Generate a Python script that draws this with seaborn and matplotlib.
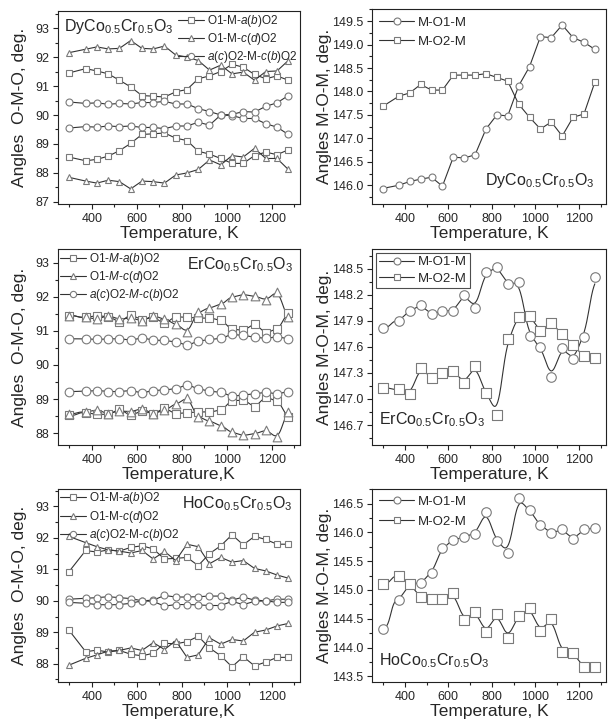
import numpy as np
import matplotlib
matplotlib.use("Agg")
import matplotlib.pyplot as plt
import seaborn as sns
from matplotlib.lines import Line2D
from matplotlib.ticker import MultipleLocator, FormatStrFormatter

# ===============================
# DATA
# ===============================
temperature = [298, 373, 423, 473, 523, 573, 623, 673, 723, 773,
               823, 873, 923, 973, 1023, 1073, 1123, 1173, 1223, 1273]

# DyCo0.5Cr0.5O3, O-M-O angles (two branches per bond type)
dy_ab_hi = [91.45, 91.60, 91.52, 91.42, 91.20, 90.97, 90.67, 90.65, 90.62, 90.80,
            90.88, 91.25, 91.35, 91.50, 91.75, 91.65, 91.40, 91.25, 91.35, 91.20]
dy_ab_lo = [88.55, 88.42, 88.47, 88.58, 88.77, 89.02, 89.33, 89.35, 89.38, 89.20,
            89.12, 88.75, 88.65, 88.50, 88.33, 88.33, 88.60, 88.72, 88.63, 88.80]
dy_cd_hi = [92.15, 92.27, 92.35, 92.28, 92.30, 92.57, 92.30, 92.28, 92.38, 92.07,
            92.00, 91.88, 91.55, 91.72, 91.42, 91.48, 91.20, 91.50, 91.52, 91.88]
dy_cd_lo = [87.85, 87.72, 87.65, 87.75, 87.70, 87.45, 87.72, 87.70, 87.65, 87.93,
            88.00, 88.12, 88.45, 88.28, 88.60, 88.55, 88.85, 88.50, 88.50, 88.12]
dy_ac_hi = [90.45, 90.40, 90.42, 90.37, 90.40, 90.38, 90.43, 90.43, 90.47, 90.38,
            90.38, 90.22, 90.12, 90.00, 89.98, 89.88, 89.88, 89.70, 89.58, 89.33]
dy_ac_lo = [89.55, 89.60, 89.58, 89.62, 89.60, 89.62, 89.57, 89.57, 89.53, 89.62,
            89.62, 89.75, 89.65, 90.00, 90.02, 90.12, 90.10, 90.30, 90.42, 90.67]
# DyCo0.5Cr0.5O3, M-O-M angles
dy_mo1m = [145.93, 146.00, 146.08, 146.13, 146.17, 145.98, 146.60, 146.58, 146.65, 147.20,
           147.50, 147.48, 148.12, 148.53, 149.17, 149.15, 149.42, 149.15, 149.05, 148.90]
dy_mo2m = [147.68, 147.90, 147.97, 148.15, 148.03, 148.03, 148.35, 148.35, 148.35, 148.38,
           148.30, 148.22, 147.73, 147.45, 147.20, 147.35, 147.05, 147.45, 147.52, 148.20]

# ErCo0.5Cr0.5O3
er_ab_hi = [91.45, 91.40, 91.45, 91.42, 91.27, 91.47, 91.33, 91.40, 91.22, 91.42,
            91.40, 91.38, 91.38, 91.32, 91.05, 91.02, 91.20, 90.95, 91.05, 91.52]
er_ab_lo = [88.52, 88.60, 88.55, 88.55, 88.70, 88.52, 88.65, 88.57, 88.73, 88.57,
            88.60, 88.62, 88.62, 88.67, 88.95, 88.97, 88.78, 89.05, 88.95, 88.48]
er_cd_hi = [91.45, 91.40, 91.35, 91.45, 91.35, 91.38, 91.30, 91.45, 91.35, 91.20,
            90.98, 91.55, 91.68, 91.78, 92.00, 92.07, 92.02, 91.92, 92.15, 91.40]
er_cd_lo = [88.57, 88.62, 88.68, 88.57, 88.65, 88.63, 88.72, 88.57, 88.67, 88.85,
            89.03, 88.47, 88.35, 88.22, 88.02, 87.93, 87.98, 88.08, 87.87, 88.62]
er_ac_hi = [90.77, 90.77, 90.75, 90.77, 90.77, 90.73, 90.80, 90.73, 90.72, 90.68,
            90.58, 90.70, 90.75, 90.78, 90.90, 90.87, 90.82, 90.78, 90.83, 90.77]
er_ac_lo = [89.22, 89.23, 89.25, 89.22, 89.22, 89.25, 89.18, 89.25, 89.27, 89.30,
            89.42, 89.30, 89.23, 89.20, 89.08, 89.12, 89.15, 89.20, 89.15, 89.22]
er_mo1m = [147.82, 147.90, 148.02, 148.08, 147.98, 148.01, 148.02, 148.20, 148.05, 148.46,
           148.52, 148.33, 148.35, 147.73, 147.60, 147.25, 147.59, 147.46, 147.72, 148.41]
er_mo2m = [147.13, 147.11, 147.06, 147.36, 147.24, 147.30, 147.32, 147.19, 147.38, 147.07,
           146.82, 147.69, 147.95, 147.96, 147.78, 147.88, 147.75, 147.62, 147.49, 147.47]

# HoCo0.5Cr0.5O3
ho_ab_hi = [90.92, 91.60, 91.55, 91.62, 91.58, 91.70, 91.75, 91.65, 91.33, 91.35,
            91.38, 91.12, 91.50, 91.75, 92.10, 91.78, 92.05, 91.95, 91.80, 91.80]
ho_ab_lo = [89.07, 88.38, 88.43, 88.37, 88.42, 88.30, 88.25, 88.33, 88.65, 88.63,
            88.70, 88.87, 88.50, 88.25, 87.90, 88.22, 87.93, 88.05, 88.20, 88.20]
ho_cd_hi = [92.05, 91.85, 91.72, 91.62, 91.58, 91.52, 91.60, 91.33, 91.57, 91.28,
            91.80, 91.72, 91.18, 91.38, 91.23, 91.28, 91.03, 90.95, 90.82, 90.72]
ho_cd_lo = [87.95, 88.17, 88.28, 88.40, 88.42, 88.50, 88.42, 88.67, 88.45, 88.73,
            88.20, 88.28, 88.82, 88.62, 88.77, 88.72, 89.00, 89.07, 89.20, 89.28]
ho_ac_hi = [90.05, 90.08, 90.10, 90.13, 90.10, 90.07, 90.00, 90.02, 90.17, 90.12,
            90.12, 90.13, 90.15, 90.15, 90.02, 90.12, 90.02, 90.00, 90.05, 90.05]
ho_ac_lo = [89.95, 89.92, 89.88, 89.87, 89.88, 89.92, 90.00, 89.98, 89.83, 89.88,
            89.88, 89.87, 89.85, 89.85, 89.98, 89.88, 89.98, 90.00, 89.95, 89.95]
ho_mo1m = [144.33, 144.83, 145.10, 145.12, 145.30, 145.73, 145.87, 145.92, 145.98, 146.36,
           145.85, 145.64, 146.60, 146.38, 146.12, 145.99, 146.05, 145.88, 146.05, 146.08]
ho_mo2m = [145.10, 145.25, 145.10, 144.87, 144.84, 144.84, 144.94, 144.48, 144.62, 144.27,
           144.58, 144.17, 144.55, 144.68, 144.29, 144.50, 143.93, 143.90, 143.66, 143.66]

lbl_ab = r"O1-M-$\mathit{a}$($\mathit{b}$)O2"
lbl_cd = r"O1-M-$\mathit{c}$($\mathit{d}$)O2"
lbl_ac = r"$\mathit{a}$($\mathit{c}$)O2-M-$\mathit{c}$($\mathit{b}$)O2"
lbl_ab_er = r"O1-$\mathit{M}$-$\mathit{a}$($\mathit{b}$)O2"
lbl_cd_er = r"O1-$\mathit{M}$-$\mathit{c}$($\mathit{d}$)O2"
lbl_ac_er = r"$\mathit{a}$($\mathit{c}$)O2-$\mathit{M}$-$\mathit{c}$($\mathit{b}$)O2"

# ===============================
# STYLE
# ===============================
sns.set_style("ticks")
plt.rcParams["font.family"] = ["Liberation Sans", "DejaVu Sans"]
plt.rcParams["mathtext.fontset"] = "custom"
plt.rcParams["mathtext.rm"] = "Liberation Sans"
plt.rcParams["mathtext.it"] = "Liberation Sans:italic"

LINE = "#333333"
MARK = "#7a7a7a"
MS = 5


def smooth(x, y, h):
    # gaussian kernel smoother for the drawn curve (points stay as read)
    x = np.asarray(x, float)
    y = np.asarray(y, float)
    xs = np.linspace(x.min(), x.max(), 500)
    w = np.exp(-0.5 * ((xs[:, None] - x[None, :]) / h) ** 2)
    return xs, (w * y).sum(1) / w.sum(1)


def draw(ax, y, marker, h=None, ms=MS):
    if h:
        xs, ys = smooth(temperature, y, h)
        sns.lineplot(x=xs, y=ys, ax=ax, color=LINE, lw=0.8, zorder=2)
        sns.scatterplot(x=temperature, y=y, ax=ax, marker=marker, s=(ms * 1.25) ** 2,
                        color="white", edgecolor=MARK, linewidth=0.8, zorder=3)
    else:
        sns.lineplot(x=temperature, y=y, ax=ax, color=LINE, lw=0.8, marker=marker,
                     ms=ms, mfc="white", mec=MARK, mew=0.8, zorder=2)


def handle(marker, label, ms=4.5):
    return Line2D([], [], color=LINE, lw=0.8, marker=marker, ms=ms,
                  mfc="white", mec=MARK, mew=0.8, label=label)


def style(ax, ylim, ymaj, fmt, xlabel, ylabel, ylab_x):
    ax.set_xlim(250, 1325)
    ax.set_ylim(*ylim)
    ax.xaxis.set_major_locator(MultipleLocator(200))
    ax.xaxis.set_minor_locator(MultipleLocator(100))
    ax.yaxis.set_major_locator(MultipleLocator(ymaj))
    ax.yaxis.set_minor_locator(MultipleLocator(ymaj / 2))
    ax.yaxis.set_major_formatter(FormatStrFormatter(fmt))
    ax.tick_params(which="both", direction="out", top=False, right=False,
                   labelsize=9, width=0.8, color="#222222", pad=3)
    ax.tick_params(which="major", length=3.5)
    ax.tick_params(which="minor", length=2)
    for s in ax.spines.values():
        s.set_linewidth(0.8)
        s.set_color("#222222")
    ax.set_xlabel(xlabel, fontsize=12.5, labelpad=1)
    ax.set_ylabel(ylabel, fontsize=12.5)
    ax.yaxis.set_label_coords(ylab_x, 0.5)


def compound(ax, name, x, y, ha):
    ax.text(x, y, name + r"Co$_{0.5}$Cr$_{0.5}$O$_{3}$", transform=ax.transAxes,
            fontsize=11.5, ha=ha, va="center")


fig = plt.figure(figsize=(6.08, 7.22), dpi=100)
ax_dy_l = fig.add_axes([0.0954, 0.7175, 0.398, 0.2673])
ax_dy_r = fig.add_axes([0.612, 0.7175, 0.385, 0.270])
ax_er_l = fig.add_axes([0.0954, 0.3837, 0.398, 0.2715])
ax_er_r = fig.add_axes([0.612, 0.3837, 0.385, 0.2715])
ax_ho_l = fig.add_axes([0.0954, 0.056, 0.398, 0.2673])
ax_ho_r = fig.add_axes([0.612, 0.056, 0.385, 0.2673])

# legends: three-row ones on the left, two-row ones on the right
leg_l = dict(fontsize=8.5, handlelength=2.2, handletextpad=0.3, frameon=False,
             labelspacing=0.2, borderpad=0.1, borderaxespad=0.05, numpoints=1)
leg_r = dict(fontsize=9.5, handlelength=2.6, handletextpad=0.3,
             labelspacing=0.55, borderpad=0.25, borderaxespad=0.3, numpoints=1)

# ===============================
# Dy
# ===============================
ax = ax_dy_l
for hi, lo, m in [(dy_ab_hi, dy_ab_lo, "s"), (dy_cd_hi, dy_cd_lo, "^"), (dy_ac_hi, dy_ac_lo, "o")]:
    draw(ax, hi, m)
    draw(ax, lo, m)
style(ax, (86.93, 93.59), 1, "%d", "Temperature, K", "Angles  O-M-O, deg.", -0.13)
ax.legend(handles=[handle("s", lbl_ab), handle("^", lbl_cd), handle("o", lbl_ac)],
          loc="upper right", **leg_l)
compound(ax, "Dy", 0.025, 0.92, "left")

ax = ax_dy_r
draw(ax, dy_mo1m, "o")
draw(ax, dy_mo2m, "s")
style(ax, (145.6, 149.76), 0.5, "%.1f", "Temperature, K", "Angles M-O-M, deg.", -0.17)
ax.legend(handles=[handle("o", "M-O1-M", 5), handle("s", "M-O2-M", 5)], loc="upper left",
          frameon=False, **leg_r)
compound(ax, "Dy", 0.95, 0.12, "right")

# ===============================
# Er
# ===============================
ax = ax_er_l
for hi, lo, m in [(er_ab_hi, er_ab_lo, "s"), (er_cd_hi, er_cd_lo, "^"), (er_ac_hi, er_ac_lo, "o")]:
    draw(ax, hi, m, h=22)
    draw(ax, lo, m, h=22)
style(ax, (87.65, 93.41), 1, "%d", "Temperature,K", "Angles  O-M-O, deg.", -0.13)
ax.legend(handles=[handle("s", lbl_ab_er), handle("^", lbl_cd_er), handle("o", lbl_ac_er)],
          loc="upper left", **leg_l)
compound(ax, "Er", 0.97, 0.92, "right")

ax = ax_er_r
draw(ax, er_mo1m, "o", h=25, ms=5.5)
draw(ax, er_mo2m, "s", h=25, ms=5.5)
style(ax, (146.47, 148.73), 0.3, "%.1f", "Temperature, K", "Angles M-O-M, deg.", -0.17)
leg = ax.legend(handles=[handle("o", "M-O1-M", 5), handle("s", "M-O2-M", 5)], loc="upper left",
                frameon=True, fancybox=False, edgecolor="#222222",
                **dict(leg_r, labelspacing=0.3))
leg.get_frame().set_linewidth(0.8)
compound(ax, "Er", 0.03, 0.13, "left")

# ===============================
# Ho
# ===============================
ax = ax_ho_l
for hi, lo, m in [(ho_ab_hi, ho_ab_lo, "s"), (ho_cd_hi, ho_cd_lo, "^"), (ho_ac_hi, ho_ac_lo, "o")]:
    draw(ax, hi, m)
    draw(ax, lo, m)
style(ax, (87.43, 93.57), 1, "%d", "Temperature,K", "Angles  O-M-O, deg.", -0.13)
ax.legend(handles=[handle("s", lbl_ab), handle("^", lbl_cd), handle("o", lbl_ac)],
          loc="upper left", **leg_l)
compound(ax, "Ho", 0.97, 0.92, "right")

ax = ax_ho_r
draw(ax, ho_mo1m, "o", h=25, ms=5.5)
draw(ax, ho_mo2m, "s", h=25, ms=5.5)
style(ax, (143.41, 146.76), 0.5, "%.1f", "Temperature, K", "Angles M-O-M, deg.", -0.17)
ax.legend(handles=[handle("o", "M-O1-M", 5), handle("s", "M-O2-M", 5)], loc="upper left",
          frameon=False, **leg_r)
compound(ax, "Ho", 0.03, 0.11, "left")

fig.savefig("out.png", dpi=100)
plt.close(fig)
